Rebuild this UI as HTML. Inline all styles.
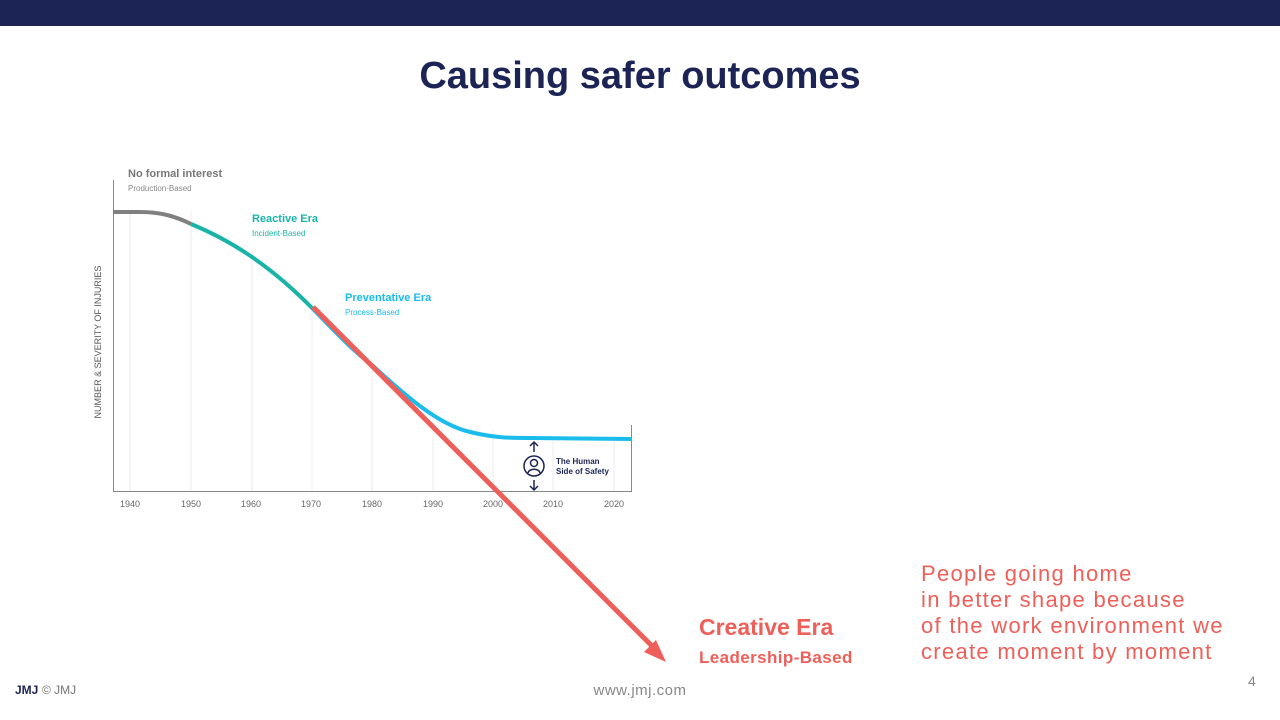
<!DOCTYPE html>
<html><head><meta charset="utf-8"><style>
body{margin:0;width:1280px;height:720px;background:#fff;position:relative;overflow:hidden;font-family:"Liberation Sans",sans-serif}
.t{position:absolute;white-space:nowrap}
</style></head><body>
<div style="position:absolute;left:0;top:0;width:1280px;height:26px;background:#1c2455"></div>
<div class="t" style="left:0;width:1280px;text-align:center;top:55px;font-size:38px;font-weight:bold;color:#1c2455">Causing safer outcomes</div>
<svg width="1280" height="720" style="position:absolute;left:0;top:0">
<g stroke="#ececec" stroke-width="1">
<line x1="130" y1="212" x2="130" y2="491"/><line x1="191" y1="212" x2="191" y2="491"/><line x1="252" y1="250" x2="252" y2="491"/><line x1="312" y1="300" x2="312" y2="491"/><line x1="372" y1="360" x2="372" y2="491"/><line x1="433" y1="410" x2="433" y2="491"/><line x1="493" y1="430" x2="493" y2="491"/><line x1="553" y1="437" x2="553" y2="491"/><line x1="614" y1="437" x2="614" y2="491"/>
</g>
<line x1="113.5" y1="180" x2="113.5" y2="491" stroke="#888" stroke-width="1"/>
<line x1="113" y1="491.5" x2="632" y2="491.5" stroke="#888" stroke-width="1"/>
<line x1="631.5" y1="425" x2="631.5" y2="491" stroke="#888" stroke-width="1"/>
<path d="M113 212 L140 212 C160 212 175 216 191 224" fill="none" stroke="#808080" stroke-width="4"/>
<path d="M191 224 C230 240 270 265 313 309" fill="none" stroke="#19b4a8" stroke-width="4"/>
<path d="M313 309 C345 342 355 352 372 365 C410 400 440 425 470 432 C495 438 510 438 530 438 L632 439" fill="none" stroke="#19bcea" stroke-width="4"/>
<line x1="313" y1="307" x2="655" y2="649" stroke="#ef5f59" stroke-width="5"/>
<polygon points="666,662 644,652 656,640" fill="#ef5f59"/>
<g stroke="#1c2455" stroke-width="1.5" fill="none">
<line x1="534" y1="442" x2="534" y2="452"/><path d="M530 446 L534 442 L538 446"/>
<line x1="534" y1="480" x2="534" y2="490"/><path d="M530 486 L534 490 L538 486"/>
<circle cx="534" cy="466" r="10"/><circle cx="534" cy="463" r="3.5"/><path d="M528 473 C529 468 539 468 540 473"/>
</g>
<text x="101" y="342" transform="rotate(-90 101 342)" text-anchor="middle" font-size="9" fill="#555" font-family="Liberation Sans">NUMBER &amp; SEVERITY OF INJURIES</text>
<g font-size="9" fill="#666" text-anchor="middle" font-family="Liberation Sans">
<text x="130" y="507">1940</text><text x="191" y="507">1950</text><text x="251" y="507">1960</text><text x="311" y="507">1970</text><text x="372" y="507">1980</text><text x="433" y="507">1990</text><text x="493" y="507">2000</text><text x="553" y="507">2010</text><text x="614" y="507">2020</text>
</g>
</svg>
<div class="t" style="left:128px;top:168px;font-size:11px;font-weight:bold;color:#777">No formal interest</div>
<div class="t" style="left:128px;top:184px;font-size:8px;color:#888">Production-Based</div>
<div class="t" style="left:252px;top:213px;font-size:11px;font-weight:bold;color:#19b4a8">Reactive Era</div>
<div class="t" style="left:252px;top:229px;font-size:8px;color:#19b4a8">Incident-Based</div>
<div class="t" style="left:345px;top:292px;font-size:11px;font-weight:bold;color:#19bcea">Preventative Era</div>
<div class="t" style="left:345px;top:308px;font-size:8px;color:#19bcea">Process-Based</div>
<div class="t" style="left:556px;top:457px;font-size:8px;font-weight:bold;color:#1c2455;line-height:10px">The Human<br>Side of Safety</div>
<div class="t" style="left:699px;top:614px;font-size:23px;font-weight:bold;color:#ef5f59">Creative Era</div>
<div class="t" style="left:699px;top:648px;font-size:17px;font-weight:bold;color:#ef5f59;letter-spacing:0.4px">Leadership-Based</div>
<div class="t" style="left:921px;top:561px;font-size:22px;line-height:26px;color:#ef5f59;letter-spacing:1.3px">People going home<br>in better shape because<br>of the work environment we<br>create moment by moment</div>
<div class="t" style="left:15px;top:683px;font-size:12px;font-weight:bold;color:#1c2455">JMJ</div>
<div class="t" style="left:42px;top:683px;font-size:12px;color:#777">© JMJ</div>
<div class="t" style="left:0;width:1280px;text-align:center;top:682px;font-size:15px;color:#888;letter-spacing:0.5px">www.jmj.com</div>
<div class="t" style="left:1248px;top:673px;font-size:14px;color:#888">4</div>
</body></html>
